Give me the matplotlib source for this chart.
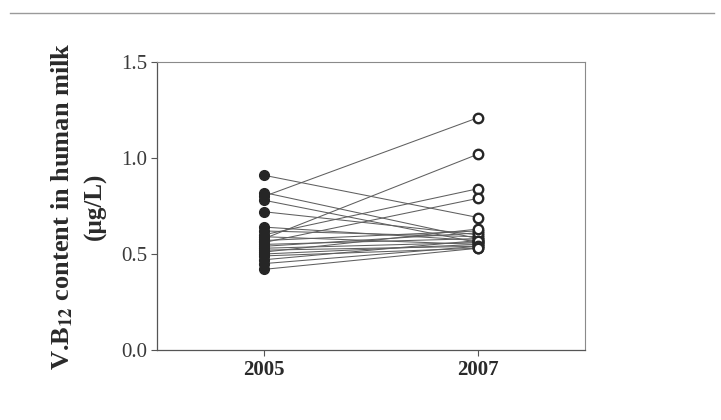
import matplotlib.pyplot as plt
from matplotlib.lines import Line2D

plt.rcParams['font.family'] = ['Liberation Serif', 'DejaVu Serif']
plt.rcParams['mathtext.fontset'] = 'stix'

# paired V.B12 measurements per subject (ug/L)
years = [2005, 2007]
vb12_2005 = [0.91, 0.82, 0.80, 0.78, 0.72, 0.64, 0.62, 0.60, 0.59, 0.58, 0.57,
             0.56, 0.55, 0.54, 0.53, 0.52, 0.51, 0.50, 0.49, 0.47, 0.45, 0.42]
vb12_2007 = [0.69, 0.58, 1.21, 0.56, 0.60, 0.57, 0.59, 0.84, 0.55, 1.02, 0.62,
             0.79, 0.58, 0.61, 0.56, 0.54, 0.63, 0.55, 0.53, 0.57, 0.54, 0.53]
y_ticks = [0.0, 0.5, 1.0, 1.5]

fig = plt.figure(figsize=(7.21, 4.20), dpi=100)
ax = fig.add_axes([0.2178, 0.1667, 0.5936, 0.6857])

for a, b in zip(vb12_2005, vb12_2007):
    ax.plot(years, [a, b], color='#5f5f5f', linewidth=0.75, zorder=1)

ax.plot([years[0]] * len(vb12_2005), vb12_2005, 'o', color='#262626',
        markersize=7, linestyle='none', zorder=3)
ax.plot([years[1]] * len(vb12_2007), vb12_2007, 'o', markerfacecolor='white',
        markeredgecolor='#262626', markeredgewidth=1.7, markersize=6.8,
        linestyle='none', zorder=3)

ax.set_xlim(2004, 2008)
ax.set_ylim(0, 1.5)
ax.set_xticks(years)
ax.set_xticklabels([str(y) for y in years], fontsize=15, fontweight='bold',
                   color='#2a2a2a')
ax.set_yticks(y_ticks)
ax.set_yticklabels([f"{v:.1f}" for v in y_ticks], fontsize=15, color='#3a3a3a')
ax.tick_params(direction='out', length=4, width=0.8, color='#555555', pad=3)

for side in ['left', 'bottom']:
    ax.spines[side].set_color('#555555')
    ax.spines[side].set_linewidth(0.9)
for side in ['top', 'right']:
    ax.spines[side].set_color('#8a8a8a')
    ax.spines[side].set_linewidth(0.8)

fig.text(0.086, 0.508, r"V.B$_{\mathbf{12}}$ content in human milk", rotation=90,
         fontsize=19, fontweight='bold', color='#2a2a2a', ha='center', va='center')
fig.text(0.132, 0.508, "(µg/L)", rotation=90,
         fontsize=18, fontweight='bold', color='#2a2a2a', ha='center', va='center')

# page rule above the figure
fig.add_artist(Line2D([0.014, 0.99], [0.968, 0.968], color='#9a9a9a',
                      linewidth=1.0, transform=fig.transFigure))

fig.savefig('out.png', dpi=100)
